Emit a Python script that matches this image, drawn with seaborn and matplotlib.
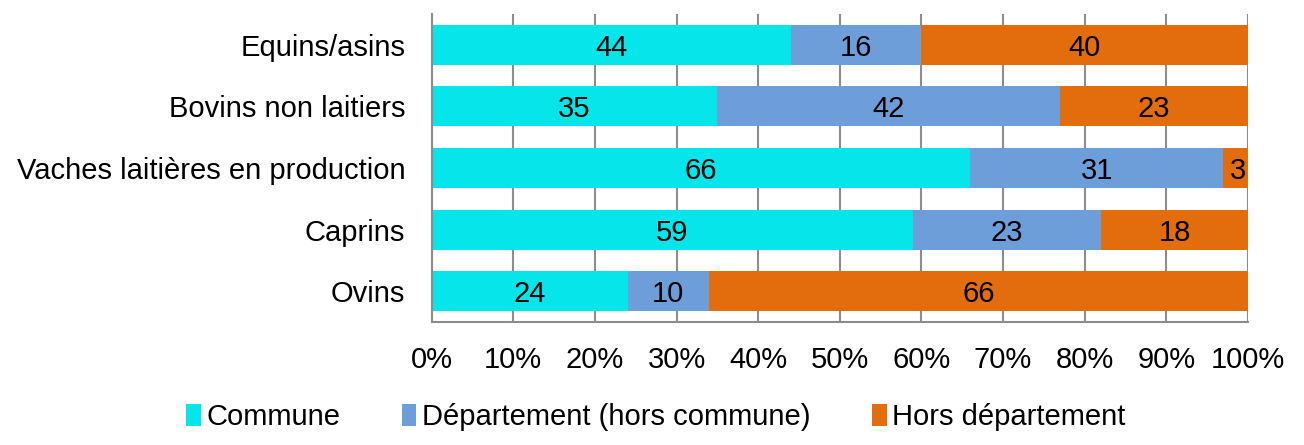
import numpy as np
import pandas as pd
import matplotlib
matplotlib.use("Agg")
import matplotlib.pyplot as plt
import seaborn as sns
from matplotlib.patches import Patch

categories = ["Equins/asins", "Bovins non laitiers", "Vaches laitières en production", "Caprins", "Ovins"]
commune = [44, 35, 66, 59, 24]
departement = [16, 42, 31, 23, 10]
hors_dept = [40, 23, 3, 18, 66]
series_names = ["Commune", "Département (hors commune)", "Hors département"]
colors = ["#05E5EA", "#6D9EDA", "#E36C0C"]
xticks = [0, 10, 20, 30, 40, 50, 60, 70, 80, 90, 100]

FS = 21

sns.set_style("white")
plt.rcParams["font.family"] = ["Liberation Sans", "DejaVu Sans"]
plt.rcParams["text.color"] = "black"
plt.rcParams["xtick.color"] = "black"
plt.rcParams["ytick.color"] = "black"

df = pd.DataFrame({"cat": categories, "c1": commune, "c2": departement, "c3": hors_dept})
df["cum1"] = df["c1"]
df["cum2"] = df["c1"] + df["c2"]
df["cum3"] = df["cum2"] + df["c3"]

fig = plt.figure(figsize=(13.04, 4.45), dpi=100)
ax = fig.add_axes([0.331, 0.276, 0.626, 0.693])

# stacked look: draw the cumulative totals from the widest down
for col, color in zip(["cum3", "cum2", "cum1"], colors[::-1]):
    sns.barplot(data=df, y="cat", x=col, color=color, width=0.65,
                saturation=1, orient="h", ax=ax, linewidth=0)

# value labels centred in each segment
for i, row in df.iterrows():
    starts = [0, row["cum1"], row["cum2"]]
    vals = [row["c1"], row["c2"], row["c3"]]
    for s, v in zip(starts, vals):
        x = s + v / 2
        if v < 5:
            x = s + v / 2 + 0.3
        ax.text(x, i, f"{v}", ha="center", va="center_baseline", fontsize=FS, color="black")

ax.set_xlim(0, 100)
ax.set_ylim(4.5, -0.5)
ax.set_xticks(xticks)
ax.set_xticklabels([f"{t}%" for t in xticks], fontsize=FS)
ax.tick_params(axis="y", labelsize=FS, length=0, pad=19, labelcolor="black")
ax.tick_params(axis="x", length=0, pad=17, labelcolor="black")
ax.set_xlabel("")
ax.set_ylabel("")

ax.set_axisbelow(True)
ax.xaxis.grid(True, color="#8c8c8c", linewidth=1.5)
ax.yaxis.grid(False)
for side in ["top", "right"]:
    ax.spines[side].set_visible(False)
for side in ["left", "bottom"]:
    ax.spines[side].set_color("#8c8c8c")
    ax.spines[side].set_linewidth(1.5)

handles = [Patch(facecolor=c, edgecolor="none") for c in colors]
leg = fig.legend(handles, series_names, loc="center", bbox_to_anchor=(0.503, 0.063),
                 ncol=3, frameon=False, fontsize=FS, handlelength=0.5, handleheight=0.8,
                 handletextpad=0.2, columnspacing=2.1)
for t in leg.get_texts():
    t.set_color("black")

fig.savefig("out.png", dpi=100)
